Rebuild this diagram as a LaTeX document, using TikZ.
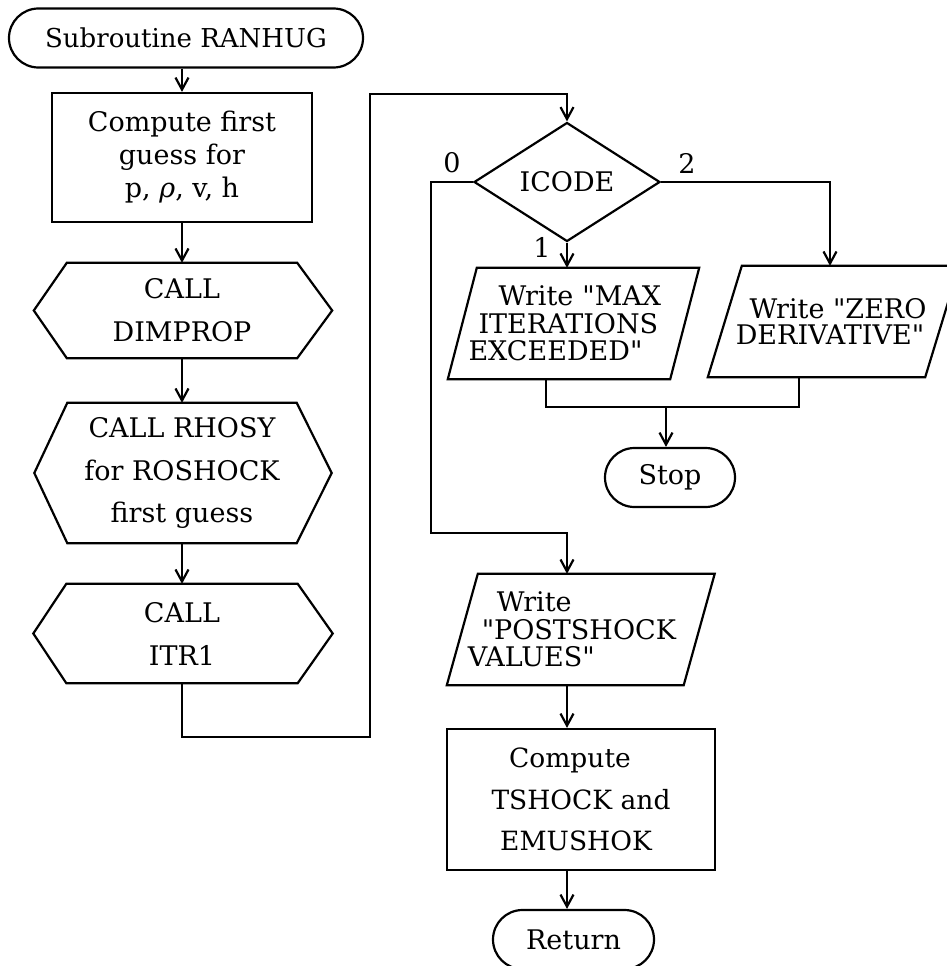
\documentclass[tikz,border=0pt]{standalone}
\usepackage{fontspec}
\setmainfont{DejaVu Serif}[Ligatures=TeXOff]
\usetikzlibrary{shapes.geometric,shapes.misc,arrows.meta,calc}
\begin{document}
\begin{tikzpicture}[x=1pt,y=-1pt,
  lw/.style={line width=2.2pt},
  txt/.style={inner sep=0pt, align=center, font=\fontsize{27}{33}\selectfont},
  boxn/.style={txt, draw, lw, rectangle},
  term/.style={txt, draw, lw, rounded rectangle},
  ghost/.style={txt, rectangle},
  outl/.style={lw, line join=miter},
  arr/.style={lw, -{Straight Barb[length=12pt,width=13pt]}},
  conn/.style={lw},
  lbl/.style={inner sep=0pt, font=\fontsize{27}{27}\selectfont}
]
\useasboundingbox (0,0) rectangle (947,966);
\clip (0,0) rectangle (947,966);

% left column
\node[term, minimum width=354pt, minimum height=59pt, font=\fontsize{26}{30}\selectfont] (start) at (186,38) {Subroutine RANHUG};
\node[boxn, minimum width=260pt, minimum height=129pt] (cmp1) at (182,157.5) {Compute first\\guess for\\p, \textit{ρ}, v, h};
\node[ghost, minimum width=230pt, minimum height=95pt, font=\fontsize{27}{43}\selectfont] (hx1) at (182,310.5) {CALL\\DIMPROP};
\node[ghost, minimum width=229pt, minimum height=140pt, font=\fontsize{27}{42.5}\selectfont] (hx2) at (182,473) {CALL RHOSY\\for ROSHOCK\\first guess};
\node[ghost, minimum width=231pt, minimum height=99pt, font=\fontsize{27}{43}\selectfont] (hx3) at (182,633.5) {CALL\\ITR1};
\foreach \h in {hx1,hx2,hx3}{
  \draw[outl] (\h.north west) -- (\h.north east) -- ($(\h.east)+(35,0)$) -- (\h.south east) -- (\h.south west) -- ($(\h.west)+(-33,0)$) -- cycle;
}
\draw[arr] (start.south -| cmp1.north) -- (cmp1.north);
\draw[arr] (cmp1.south) -- (hx1.north);
\draw[arr] (hx1.south) -- (hx2.north);
\draw[arr] (hx2.south) -- (hx3.north);

% decision
\node[txt, draw, lw, diamond, aspect=1.6, minimum width=186pt, minimum height=119pt] (dec) at (567,182) {ICODE};
\node[lbl] (l0) at (452,163) {0};
\node[lbl] (l2) at (687,163) {2};
\node[lbl] (l1) at (542,247) {1};

\coordinate (lb) at (370,737);
\coordinate (lt) at (370,94);
\draw[arr] (hx3.south) |- (lb) -- (lt) -| (dec.north);

% write boxes
\node[ghost, minimum width=222pt, minimum height=111pt, text width=214pt, align=left, font=\fontsize{27}{27.5}\selectfont] (max) at (573.5,323.5) {\hspace*{32pt}Write "MAX\\\hspace*{12pt}ITERATIONS\\\hspace*{2pt}EXCEEDED"};
\draw[outl] ($(max.south west)+(-14.5,0)$) -- ($(max.north west)+(14.5,0)$) -- ($(max.north east)+(14.5,0)$) -- ($(max.south east)+(-14.5,0)$) -- cycle;

\node[ghost, minimum width=217pt, minimum height=111pt, font=\fontsize{27}{25.5}\selectfont] (zero) at (833.5,321.5) {\hspace*{9pt}Write "ZERO\\DERIVATIVE"\hspace*{7pt}};
\draw[outl] ($(zero.south west)+(-17,0)$) -- ($(zero.north west)+(17,0)$) -- ($(zero.north east)+(17,0)$) -- ($(zero.south east)+(-17,0)$) -- cycle;

\draw[arr] (dec.south) -- (dec.south |- max.north);
\draw[arr] (dec.east) -| ($(zero.north)+(-3.5,0)$);

\node[term, minimum width=130pt, minimum height=59pt] (stop) at (670,477.5) {Stop};
\coordinate (mj) at (666,407);
\draw[conn] ($(max.south)+(-27.5,0)$) |- (mj) -| ($(zero.south)+(-34.5,0)$);
\draw[arr] (mj) -- (mj |- stop.north);

% lower right
\node[ghost, minimum width=236.5pt, minimum height=111pt, text width=226pt, align=left, font=\fontsize{27}{27.5}\selectfont] (post) at (580.75,629.5) {\hspace*{29pt}Write\\\hspace*{14pt}"POSTSHOCK\\VALUES"};
\draw[outl] ($(post.south west)+(-15.5,0)$) -- ($(post.north west)+(15.5,0)$) -- ($(post.north east)+(15.5,0)$) -- ($(post.south east)+(-15.5,0)$) -- cycle;

\coordinate (lc) at (431,533);
\draw[arr] (dec.west) -| (lc) -| (post.north -| dec.south);

\node[boxn, minimum width=268pt, minimum height=141pt, font=\fontsize{26.5}{41.5}\selectfont] (cmp2) at (581,799.5) {Compute\hspace*{22pt}\\TSHOCK and\hspace*{12pt}\\EMUSHOK\hspace*{10pt}};
\draw[arr] (post.south -| dec.south) -- (cmp2.north -| dec.south);

\node[term, minimum width=161pt, minimum height=59pt] (ret) at (573.5,939.5) {Return};
\draw[arr] (cmp2.south -| dec.south) -- (ret.north -| dec.south);
\end{tikzpicture}
\end{document}
